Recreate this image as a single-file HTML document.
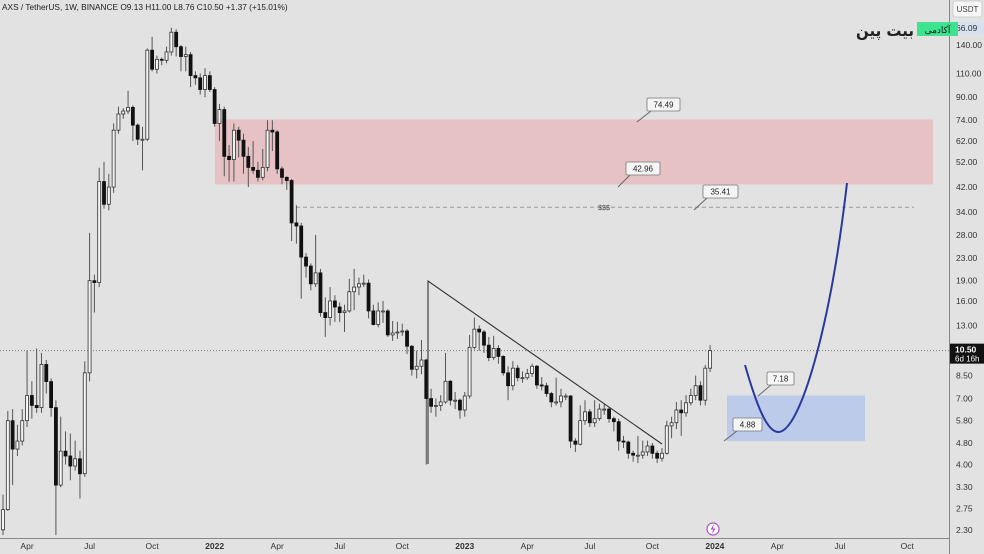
<!DOCTYPE html>
<html><head><meta charset="utf-8">
<style>
html,body{margin:0;padding:0;background:#e2e2e2;}
body{width:984px;height:554px;overflow:hidden;position:relative;font-family:"Liberation Sans",sans-serif;}
svg{position:absolute;left:0;top:0;}
</style></head>
<body>
<svg id="chart" width="984" height="554" viewBox="0 0 984 554" xmlns="http://www.w3.org/2000/svg"></svg>
<script>
// ---- data ----
const closes=[2.73,5.8,4.56,4.88,5.8,7.18,6.6,6.48,9.34,8.08,6.48,3.36,4.48,4.3,3.95,4.2,3.7,8.7,19,18.7,44,36.3,42,68,78,80,82.5,71,63,63,134,114,124,123,132,156,138,127,129,108,106,96,108,96,72,81,54.5,53,68,62.5,54.5,49.6,48.4,45.6,49.6,68,67,49,45.6,44.4,31,30.2,23.2,21.5,18.5,20.3,14.5,13.9,16,15.2,14.5,14.7,17.3,18,18.5,18.6,14.7,13.1,14.7,14.7,12,12.2,12.3,12.4,10.9,8.97,9.2,9.7,7,6.55,6.6,6.8,8.1,6.9,6.9,6.35,7.15,10.8,12.6,12.3,11,9.9,10.7,10,8.7,7.8,9.05,8.35,8.35,8.65,9.2,7.85,7.8,7.3,6.8,6.8,7.15,7.15,4.88,4.75,5.8,6.25,5.7,5.9,6.4,6.4,5.9,5.75,4.88,4.84,4.4,4.33,4.33,4.45,4.68,4.4,4.22,4.4,5.55,5.7,6.35,6.2,6.75,7.18,7.8,6.9,9.05,10.5];
const opens0=2.3;
const highs=[3.1,6.3,6.4,5.6,6.4,10.5,8.1,10.7,10.3,9.7,8.3,6.9,6.0,5.3,5.2,4.9,4.5,9.6,28.5,20,49.5,52,47,72,83,82,95,84,72,70,136,150,128,126,138,162,160,140,138,132,112,110,115,112,98,85,83,60,72,70,66,59,62,52,58,74,74,68,50,46,45,36,31,24,22,28,21,16.5,18,16.8,15.8,15.5,19.3,21,19.5,20,19.2,15.5,15.8,16,14.9,13.5,13.4,13.2,12.6,11,10.5,11.5,9.8,7.6,7,7.2,10.3,8.2,7.4,7.0,7.4,12,13.9,13,12.5,11.8,11.9,11,10.1,9.2,9.6,9.3,8.8,9.0,9.4,9.3,8.4,8.0,7.4,8.35,7.6,7.3,7.2,5.0,6.6,6.9,6.4,6.9,6.7,6.7,6.5,6.0,5.9,5.1,4.9,4.5,5.1,4.9,4.9,4.8,4.5,4.6,5.8,6.0,6.8,6.9,7.2,7.6,8.5,8.1,9.3,11];
const lows=[2.2,2.7,3.36,4.3,4.7,5.5,5.9,6.2,6.2,7.3,6.0,2.2,3.3,4.0,3.5,3.8,3.0,3.6,8.1,14.5,18,35,34.5,40,66,75,78,62,60,48.4,62,112,110,118,120,128,127,112,112,98,100,92,90,94,70,62,46,44,44,54,47,42,47,44,44.5,48,57,47,43,41,26.6,26,16.3,19.5,17.5,18,14,11.8,13,13.4,13.4,12.3,14.5,14.8,16.8,18,13.8,13,12.8,13.3,11.8,11.4,11.6,11.9,10.2,8.5,8.3,8.6,4.0,6.2,6.0,6.3,6.7,6.6,6.4,5.9,6.0,7.0,10.6,10.5,10.3,9.6,9.7,9.4,8.5,6.9,7.5,8.1,8.0,8.2,8.4,7.6,7.5,7.1,6.5,6.6,6.5,6.9,4.6,4.45,4.7,5.6,5.5,5.5,5.8,6.1,5.7,5.3,4.5,4.6,4.2,4.1,4.05,4.2,4.3,4.2,4.05,4.1,4.35,5.0,5.4,5.1,6.0,6.6,6.9,6.6,6.6,8.76];
const priceTicks=[140,110,90,74,62,52,42,34,28,23,19,16,13,8.5,7,5.8,4.8,4,3.3,2.75,2.3];
const timeLabels=["Apr","Jul","Oct","2022","Apr","Jul","Oct","2023","Apr","Jul","Oct","2024","Apr","Jul","Oct"];
const timeIdx=[5,18,31,44,57,70,83,96,109,122,135,148,161,174,188]; // weeks from first candle
const supplyZone=[42.96,74.49];
const demandZone=[4.88,7.18];
const liquidityLevel=35.41;
const lastPrice=10.50;

// ---- axes ----
const X0=3, DX=4.81;
const xs=i=>X0+i*DX;
const ys=p=>45+(Math.log(140)-Math.log(p))*118;
const NS="http://www.w3.org/2000/svg";
const svg=document.getElementById('chart');
function mk(tag,attrs,parent){const e=document.createElementNS(NS,tag);for(const k in attrs)e.setAttribute(k,attrs[k]);(parent||svg).appendChild(e);return e;}

const defs=mk('defs',{});
const cp=mk('clipPath',{id:'plotclip'},defs);
mk('rect',{x:0,y:0,width:949,height:538},cp);
const plot=mk('g',{'clip-path':'url(#plotclip)'});



const sz=mk('rect',{x:215,y:ys(supplyZone[1]),width:718,height:ys(supplyZone[0])-ys(supplyZone[1]),fill:'#e6c2c5'},plot);


const dz=mk('rect',{x:727,y:ys(demandZone[1]),width:138,height:ys(demandZone[0])-ys(demandZone[1]),fill:'#bccbea'},plot);



const lp=mk('line',{x1:0,x2:949,y1:ys(lastPrice),y2:ys(lastPrice),stroke:'#777','stroke-width':1,'stroke-dasharray':'1,2'},plot);



const ll=mk('line',{x1:296,x2:914,y1:ys(liquidityLevel),y2:ys(liquidityLevel),stroke:'#999','stroke-width':1,'stroke-dasharray':'4,3'},plot);


const lt=mk('text',{x:604,y:ys(liquidityLevel)+3,'font-size':7,fill:'#444','text-anchor':'middle'},plot);
lt.textContent='$$$';



for(let i=0;i<closes.length;i++){
  const o=i===0?opens0:closes[i-1], c=closes[i];
  const x=xs(i);
  const g=mk('g',{},plot);
  
  
  mk('line',{x1:x,x2:x,y1:ys(highs[i]),y2:ys(lows[i]),stroke:'#555','stroke-width':1},g);
  const top=ys(Math.max(o,c)), bot=ys(Math.min(o,c));
  const up=c>=o;
  mk('rect',{x:x-1.5,y:top,width:3,height:Math.max(1,bot-top),fill:up?'#f4f4f4':'#111',stroke:up?'#333':'#111','stroke-width':0.8},g);
}

const tl=mk('path',{d:'M428,464 L428,281 L662,444',fill:'none',stroke:'#333','stroke-width':1.1},plot);



const pc=mk('path',{d:'M745,365 C758,410 768,433 779,432 C800,430 830,330 847,183',fill:'none',stroke:'#2a3a9a','stroke-width':2},plot);



function callout(name,label,bx,by,px,py,w){
  const g=mk('g',{});
  
  
  mk('line',{x1:bx+4,y1:by+13,x2:px,y2:py,stroke:'#666','stroke-width':1},g);
  mk('rect',{x:bx,y:by,width:w,height:13,rx:1.5,fill:'#f5f5f5',stroke:'#777','stroke-width':0.8},g);
  const t=mk('text',{x:bx+w/2,y:by+9.5,'font-size':8,fill:'#222','text-anchor':'middle'},g);
  t.textContent=label;
}
callout('callout-74-49','74.49',647,98,637,122,33);
callout('callout-42-96','42.96',626,162,618,187,34);
callout('callout-35-41','35.41',703,185,694,210,35);
callout('callout-7-18','7.18',767,372,758,396,27);
callout('callout-4-88','4.88',733,418,724,441,29);

const ax=mk('line',{x1:949.5,x2:949.5,y1:0,y2:554,stroke:'#888','stroke-width':1});


const bx=mk('line',{x1:0,x2:949,y1:538.5,y2:538.5,stroke:'#888','stroke-width':1});



priceTicks.forEach(p=>{
  const t=mk('text',{x:956,y:ys(p)+3,'font-size':8.5,fill:'#333'});
  t.textContent=p.toFixed(2);
  
  
});
timeLabels.forEach((l,k)=>{
  const t=mk('text',{x:xs(timeIdx[k]),y:549,'font-size':8.5,fill:'#333','text-anchor':'middle','font-weight':l.length===4?'bold':'normal'});
  t.textContent=l;
  
  
});

const ub=mk('g',{});


mk('rect',{x:953,y:1,width:29,height:16,rx:2,fill:'#f7f7f7',stroke:'#ccc'},ub);
const ut=mk('text',{x:967.5,y:12,'font-size':8,fill:'#444','text-anchor':'middle'},ub);ut.textContent='USDT';
const hl=mk('g',{});


mk('rect',{x:950,y:22,width:34,height:12,fill:'#d5e1ef'},hl);
const ht=mk('text',{x:956,y:31,'font-size':8.5,fill:'#333'},hl);ht.textContent='66.09';
const lpl=mk('g',{});


mk('rect',{x:950,y:ys(lastPrice)-7,width:34,height:20,fill:'#111'},lpl);
const l1=mk('text',{x:955,y:ys(lastPrice)+2,'font-size':8.5,fill:'#fff','font-weight':'bold'},lpl);l1.textContent='10.50';
const l2=mk('text',{x:955,y:ys(lastPrice)+11,'font-size':8,fill:'#fff'},lpl);l2.textContent='6d 16h';

const hd=mk('text',{x:2,y:10,'font-size':8.3,fill:'#222'});
hd.textContent='AXS / TetherUS, 1W, BINANCE  O9.13  H11.00  L8.76  C10.50  +1.37 (+15.01%)';



const lg=mk('g',{});


mk('rect',{x:917,y:22,width:41,height:14,fill:'#3fe28f'},lg);
const lgt=mk('text',{x:937.5,y:33,'font-size':9,fill:'#111','text-anchor':'middle','font-family':'"Liberation Sans","Noto Sans CJK SC",sans-serif'},lg);lgt.textContent='آکادمی';
const lgn=mk('text',{x:885,y:36,'font-size':16,fill:'#222','text-anchor':'middle','font-weight':'bold','font-family':'"DejaVu Sans",sans-serif','textLength':58,'lengthAdjust':'spacingAndGlyphs'},lg);lgn.textContent='بیت پین';

const li=mk('g',{});


mk('circle',{cx:713,cy:529,r:6,fill:'#fff',stroke:'#b04fc8','stroke-width':1.2},li);
mk('path',{d:'M714,524 L710.5,529.5 L713,529.5 L712,534 L715.5,528.5 L713,528.5 Z',fill:'#b04fc8'},li);
</script>
</body></html>
